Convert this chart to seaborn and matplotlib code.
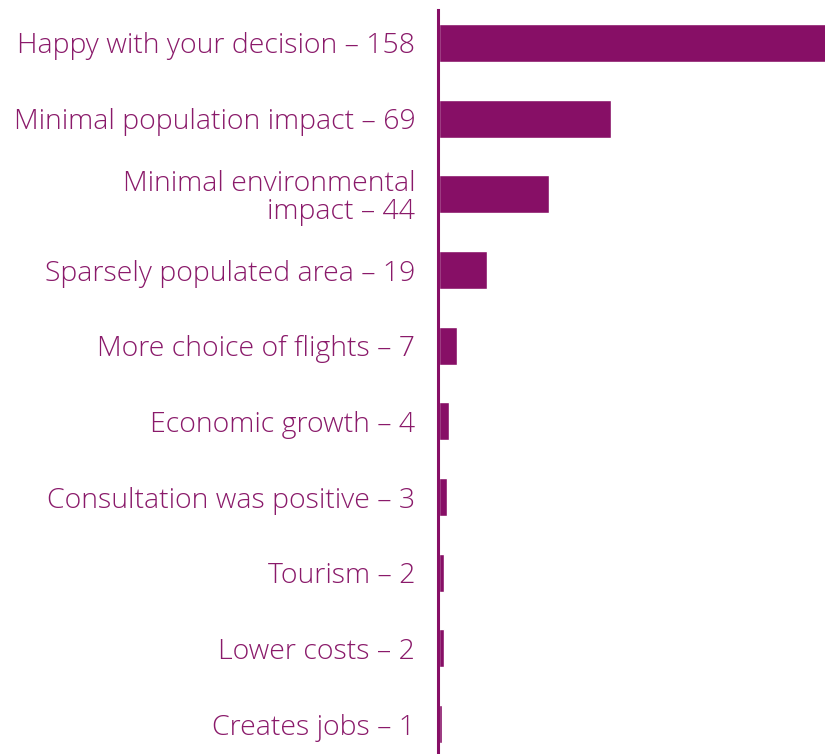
import pandas as pd
import matplotlib.pyplot as plt
import seaborn as sns

# categorias e contagens
motivos = ['Happy with your decision', 'Minimal population impact', 'Minimal environmental\nimpact',
           'Sparsely populated area', 'More choice of flights', 'Economic growth',
           'Consultation was positive', 'Tourism', 'Lower costs', 'Creates jobs']
contagens = [158, 69, 44, 19, 7, 4, 3, 2, 2, 1]

rotulos = [f'{m} – {c}' for m, c in zip(motivos, contagens)]
dados = pd.DataFrame({'rotulo': rotulos, 'contagem': contagens})

roxo = '#870f66'

sns.set_style('white')
plt.rcParams['font.family'] = ['Open Sans', 'DejaVu Sans']

fig = plt.figure(figsize=(8.25, 7.54), dpi=100)
ax = fig.add_axes([437.5 / 825, 0, 1 - 437.5 / 825, 744 / 754])

sns.barplot(x='contagem', y='rotulo', data=dados, color=roxo, width=0.5,
            saturation=1, ax=ax)

# zero logo a direita da linha do eixo
ax.set_xlim(-0.8, 155)
ax.set_ylim(9.396, -0.436)
ax.set_xlabel('')
ax.set_ylabel('')
ax.set_xticks([])
ax.tick_params(axis='y', length=0, pad=16)
for t in ax.get_yticklabels():
    t.set_fontsize(20.5)
    t.set_fontweight('light')
    t.set_color('#8a1a6a')
    t.set_linespacing(1.0)

sns.despine(ax=ax, top=True, right=True, bottom=True)
ax.spines['left'].set_color(roxo)
ax.spines['left'].set_linewidth(2.2)

fig.savefig('out.png', dpi=100)
